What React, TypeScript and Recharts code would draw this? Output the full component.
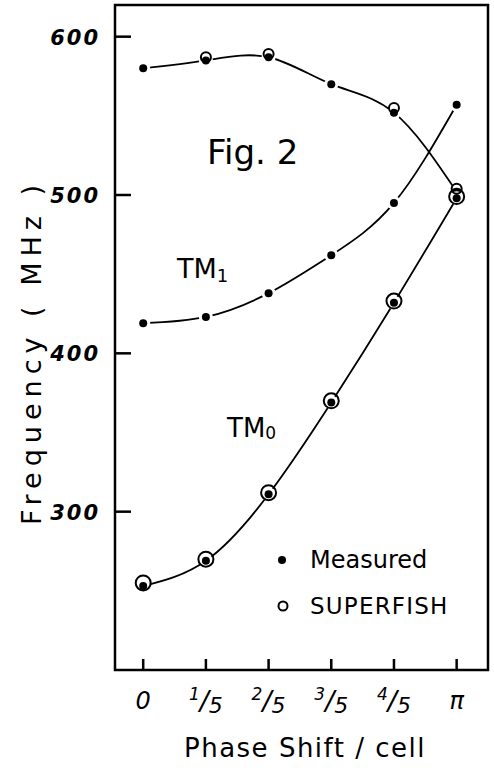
import React from "react";
import {
  LineChart,
  Line,
  XAxis,
  YAxis,
  ReferenceArea,
} from "recharts";

// phase index: 0 .. 5  ->  0, 1/5, 2/5, 3/5, 4/5, pi
const phase = [0, 1, 2, 3, 4, 5];
const xLabels = ["0", "1/5", "2/5", "3/5", "4/5", "π"];
const yTicks = [300, 400, 500, 600];

// upper (falling) branch
const upperMeasured = [580, 585, 587, 570, 552, 502];
const upperSuperfish = [null, 587, 589, null, 555, 504];
// TM1
const tm1Measured = [419, 423, 438, 462, 495, 557];
// TM0
const tm0Measured = [253, 269, 311, 369, 432, 498];
const tm0Superfish = [255, 270, 312, 370, 433, 499];

const data = phase.map((p, i) => ({
  phase: p,
  upper: upperMeasured[i],
  upperSF: upperSuperfish[i],
  tm1: tm1Measured[i],
  tm0: tm0Measured[i],
  tm0SF: tm0Superfish[i],
}));

const FONT = "'DejaVu Sans', sans-serif";
const W = 494;
const H = 774;

const MeasuredDot = (props: any) => {
  const { cx, cy, value } = props;
  if (value == null || cx == null) return null;
  return (
    <g>
      <circle cx={cx} cy={cy} r={7} fill="#fff" />
      <circle cx={cx} cy={cy} r={4} fill="#000" />
    </g>
  );
};

const ringDot = (r: number) => (props: any) => {
  const { cx, cy, value } = props;
  if (value == null || cx == null) return null;
  return <circle cx={cx} cy={cy} r={r} fill="none" stroke="#000" strokeWidth={2} />;
};

const LeftTick = (props: any) => {
  const { x, y, payload } = props;
  return (
    <g>
      <line x1={x} y1={y} x2={x + 16} y2={y} stroke="#000" strokeWidth={2.5} />
      <text
        x={x - 15}
        y={y + 8}
        textAnchor="end"
        fontFamily={FONT}
        fontWeight="bold"
        fontStyle="italic"
        fontSize={21}
        letterSpacing={2}
        fill="#000"
      >
        {payload.value}
      </text>
    </g>
  );
};

const RightTick = (props: any) => {
  const { x, y } = props;
  return <line x1={x} y1={y} x2={x - 14} y2={y} stroke="#000" strokeWidth={2.5} />;
};

const BottomTick = (props: any) => {
  const { x, y, payload } = props;
  const label = xLabels[payload.value] ?? "";
  const parts = label.split("/");
  return (
    <g>
      <line x1={x} y1={y} x2={x} y2={y - 11} stroke="#000" strokeWidth={2.5} />
      {parts.length === 2 ? (
        <text x={x} y={y + 40} textAnchor="middle" fontFamily={FONT} fontStyle="italic" fill="#000">
          <tspan fontSize={17} dy={-10}>{parts[0]}</tspan>
          <tspan fontSize={27} dy={10}>/</tspan>
          <tspan fontSize={22} dy={3}>{parts[1]}</tspan>
        </text>
      ) : (
        <text
          x={x}
          y={y + 39}
          textAnchor="middle"
          fontFamily={FONT}
          fontStyle="italic"
          fontSize={24}
          fill="#000"
        >
          {label}
        </text>
      )}
    </g>
  );
};

export default function App() {
  return (
    <div style={{ position: "absolute", left: 0, top: 0, width: W, height: H, background: "#fff" }}>
      <LineChart
        width={W}
        height={H}
        data={data}
        margin={{ top: 5, right: 6, bottom: 54, left: 0 }}
      >
        <XAxis
          type="number"
          dataKey="phase"
          domain={[-0.45, 5.5]}
          ticks={phase}
          allowDataOverflow
          axisLine={false}
          tickLine={false}
          tickSize={0}
          tickMargin={0}
          height={50}
          tick={<BottomTick />}
        />
        <YAxis
          type="number"
          domain={[200, 620]}
          ticks={yTicks}
          allowDataOverflow
          axisLine={false}
          tickLine={false}
          tickSize={0}
          tickMargin={0}
          width={115}
          tick={<LeftTick />}
        />
        <YAxis
          yAxisId="r"
          orientation="right"
          type="number"
          domain={[200, 620]}
          ticks={yTicks}
          axisLine={false}
          tickLine={false}
          tickSize={0}
          tickMargin={0}
          width={0}
          tick={<RightTick />}
        />
        <ReferenceArea
          x1={-0.45}
          x2={5.5}
          y1={200}
          y2={620}
          fill="none"
          fillOpacity={0}
          stroke="#000"
          strokeWidth={2.5}
          ifOverflow="visible"
        />
        <Line
          type="natural"
          dataKey="upper"
          stroke="#000"
          strokeWidth={1.8}
          dot={<MeasuredDot />}
          activeDot={false}
          isAnimationActive={false}
        />
        <Line
          type="natural"
          dataKey="tm1"
          stroke="#000"
          strokeWidth={1.8}
          dot={<MeasuredDot />}
          activeDot={false}
          isAnimationActive={false}
        />
        <Line
          type="natural"
          dataKey="tm0"
          stroke="#000"
          strokeWidth={1.8}
          dot={<MeasuredDot />}
          activeDot={false}
          isAnimationActive={false}
        />
        <Line
          dataKey="upperSF"
          stroke="none"
          dot={ringDot(5)}
          activeDot={false}
          isAnimationActive={false}
        />
        <Line
          dataKey="tm0SF"
          stroke="none"
          dot={ringDot(7.5)}
          activeDot={false}
          isAnimationActive={false}
        />
      </LineChart>

      {/* annotations */}
      <svg
        width={W}
        height={H}
        style={{ position: "absolute", left: 0, top: 0, pointerEvents: "none" }}
        fontFamily={FONT}
      >
        <text x={207} y={164} fontSize={34} fill="#000">
          Fig. 2
        </text>
        <text x={177} y={278} fontSize={27} fill="#000">
          TM<tspan fontSize={18} dy={4}>1</tspan>
        </text>
        <text x={227} y={437} fontSize={26} fill="#000">
          TM<tspan fontSize={17} dy={2}>0</tspan>
        </text>

        <circle cx={282} cy={560} r={4} fill="#000" />
        <text x={310} y={568} fontSize={24} fill="#000">
          Measured
        </text>
        <circle cx={283} cy={606} r={4.5} fill="none" stroke="#000" strokeWidth={2} />
        <text x={310} y={614} fontSize={23} letterSpacing={1.2} fill="#000">
          SUPERFISH
        </text>

        <text x={305} y={757} textAnchor="middle" fontSize={26} letterSpacing={1.5} fill="#000">
          Phase Shift / cell
        </text>
        <g transform="translate(41, 352) rotate(-90)">
          <text x={0} y={0} textAnchor="middle" fontSize={27} letterSpacing={6} fill="#000">
            Frequency ( MHz )
          </text>
        </g>
      </svg>
    </div>
  );
}
